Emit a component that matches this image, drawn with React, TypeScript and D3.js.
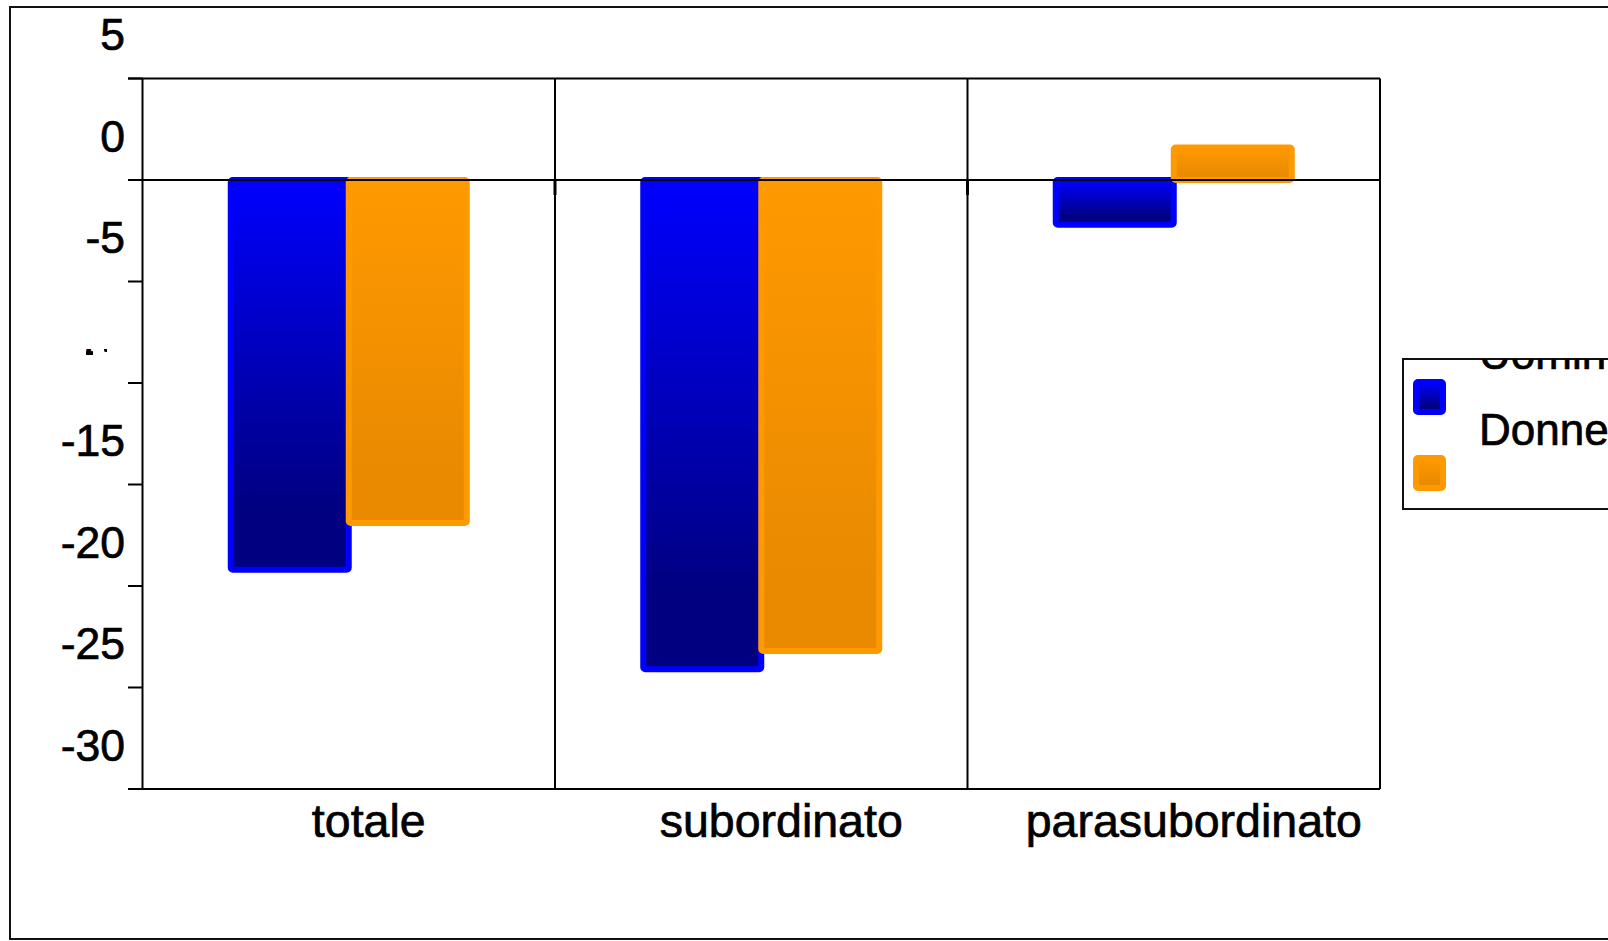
import React from "react";
import * as d3 from "d3";

const categories = ["totale", "subordinato", "parasubordinato"];
const seriesNames = ["Uomini", "Donne"];
const uomini = [-19.2, -24.1, -2.2];
const donne = [-16.9, -23.2, 1.6];
const yTicks = [5, 0, -5, -10, -15, -20, -25, -30];

const W = 1608;
const H = 941;

export default function App() {
  const x = d3.scaleBand<string>().domain(categories).range([142.5, 1380]).padding(0);
  const y = d3.scaleLinear().domain([5, -30]).range([78.5, 789]);
  const sub = d3.scaleBand<string>().domain(seriesNames).range([-118, 118]).padding(0);
  const series = [
    { name: "Uomini", values: uomini, stroke: "#0000FF", grad: "gradBlue" },
    { name: "Donne", values: donne, stroke: "#FF9900", grad: "gradOrange" },
  ];
  const font = "'Liberation Sans', Arial, sans-serif";
  const y0 = y(0);
  const left = x.range()[0];
  const right = x.range()[1];
  const top = y(5);
  const bottom = y(-30);
  const dividers = categories.slice(1).map((c) => x(c) as number);
  const textStroke = { stroke: "#000", strokeWidth: 0.7 };

  return (
    <div style={{ position: "fixed", left: 0, top: 0, width: W, height: H, overflow: "hidden", background: "#fff" }}>
      <svg width={W} height={H} style={{ display: "block" }} fontFamily={font}>
        <defs>
          <linearGradient id="gradBlue" x1="0" y1="0" x2="0" y2="1">
            <stop offset="0" stopColor="#0000FF" />
            <stop offset="0.85" stopColor="#000080" />
            <stop offset="1" stopColor="#000080" />
          </linearGradient>
          <linearGradient id="gradOrange" x1="0" y1="0" x2="0" y2="1">
            <stop offset="0" stopColor="#FF9900" />
            <stop offset="0.85" stopColor="#E98A00" />
            <stop offset="1" stopColor="#E98A00" />
          </linearGradient>
          <clipPath id="clipTen">
            <rect x={86} y={349} width={7} height={6} />
            <rect x={104} y={349} width={3} height={3} />
          </clipPath>
          <clipPath id="clipLegend">
            <rect x={1403} y={359.5} width={300} height={149} />
          </clipPath>
        </defs>
        <rect x={0} y={0} width={W} height={H} fill="#fff" />
        {/* outer frame */}
        <rect x={10} y={7} width={1700} height={932} fill="none" stroke="#111" strokeWidth={2} />

        {/* bars */}
        {series.map((s) =>
          s.values.map((v, i) => {
            const cx = (x(categories[i]) as number) + x.bandwidth() / 2;
            const bx = cx + (sub(s.name) as number);
            const yt = Math.min(y(v), y0);
            const h = Math.abs(y(v) - y0);
            return (
              <rect
                key={s.name + i}
                x={bx}
                y={yt}
                width={sub.bandwidth()}
                height={h}
                rx={2}
                fill={`url(#${s.grad})`}
                stroke={s.stroke}
                strokeWidth={6}
                strokeLinejoin="round"
              />
            );
          })
        )}

        {/* plot frame */}
        <line x1={left} x2={left} y1={top} y2={bottom} stroke="#000" strokeWidth={2} />
        <line x1={right} x2={right} y1={top} y2={bottom} stroke="#000" strokeWidth={2} />
        <line x1={128} x2={right} y1={top} y2={top} stroke="#000" strokeWidth={2} />
        <line x1={128} x2={right} y1={bottom} y2={bottom} stroke="#000" strokeWidth={2} />
        {dividers.map((d, i) => (
          <g key={"div" + i}>
            <line x1={d} x2={d} y1={top} y2={bottom} stroke="#000" strokeWidth={2} />
            <line x1={d} x2={d} y1={y0} y2={y0 + 15} stroke="#000" strokeWidth={3} />
          </g>
        ))}
        {/* zero line */}
        <line x1={left} x2={right} y1={y0} y2={y0} stroke="#000" strokeWidth={2} />

        {/* y ticks and labels */}
        {yTicks.map((t) => (
          <g key={"t" + t}>
            <line x1={128} x2={left} y1={y(t)} y2={y(t)} stroke="#000" strokeWidth={2} />
            <text
              x={125}
              y={y(t) - 28.5}
              textAnchor="end"
              fontSize={44.5}
              fill="#000"
              {...textStroke}
              clipPath={t === -10 ? "url(#clipTen)" : undefined}
            >
              {t}
            </text>
          </g>
        ))}

        {/* x labels */}
        {categories.map((c) => (
          <text
            key={c}
            x={(x(c) as number) + x.bandwidth() / 2 + 20}
            y={837}
            textAnchor="middle"
            fontSize={46.5}
            fill="#000"
            {...textStroke}
          >
            {c}
          </text>
        ))}

        {/* legend */}
        <rect x={1403} y={359} width={300} height={150} fill="#fff" stroke="#111" strokeWidth={2} />
        {series.map((s, i) => (
          <g key={"leg" + i}>
            <rect
              x={1416}
              y={382 + i * 76}
              width={27}
              height={30}
              rx={2}
              fill={`url(#${s.grad})`}
              stroke={s.stroke}
              strokeWidth={6}
              strokeLinejoin="round"
            />
            <text
              x={1479}
              y={369 + i * 76}
              fontSize={44}
              fill="#000"
              {...textStroke}
              clipPath="url(#clipLegend)"
            >
              {s.name}
            </text>
          </g>
        ))}
      </svg>
    </div>
  );
}
